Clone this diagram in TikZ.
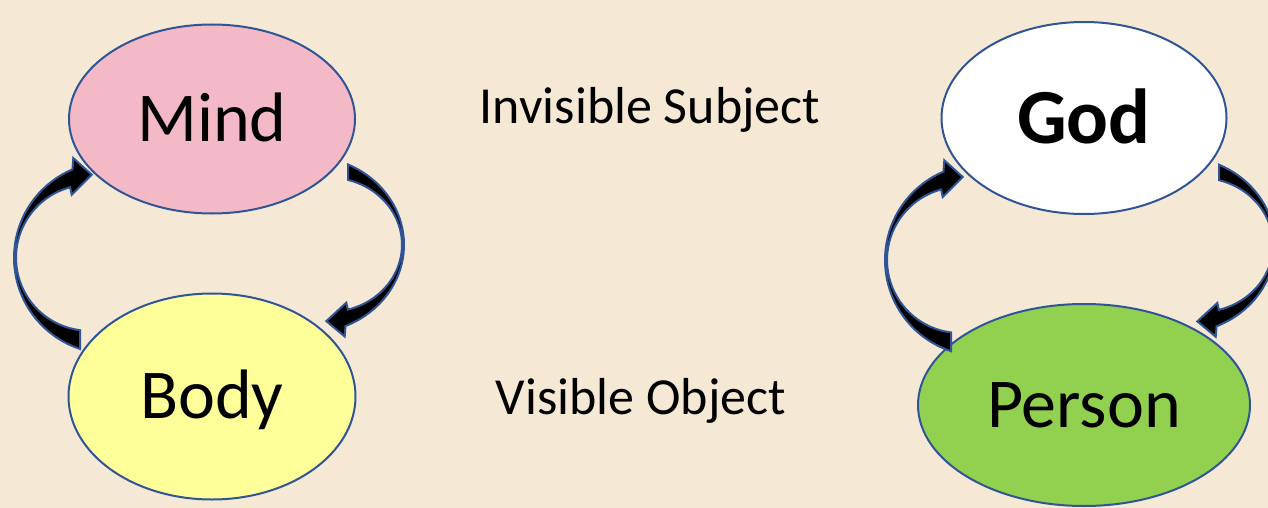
\documentclass[tikz,border=0pt]{standalone}
\usepackage{fontspec}
\setmainfont{Carlito}
\usetikzlibrary{shapes.geometric,positioning,calc}

\definecolor{paper}{RGB}{245,233,213}
\definecolor{rim}{RGB}{47,85,151}
\definecolor{rose}{RGB}{244,185,198}
\definecolor{lemon}{RGB}{255,255,153}
\definecolor{leaf}{RGB}{146,208,80}

\tikzset{
  oval/.style={ellipse, draw=rim, line width=2pt, inner sep=0pt, text height=44pt, text depth=0pt, font=\fontsize{70}{84}\selectfont},
  caption/.style={inner sep=0pt, text height=33pt, text depth=0pt, font=\fontsize{52}{62}\selectfont},
  bendarrow/.style={fill=black, draw=rim, line width=2pt, line join=miter},
  % crescent block arrow, #1 = x of the tail end
  pics/bend/.style={code={
    \pgfmathsetmacro{\ao}{acos((#1-96)/96)}
    \pgfmathsetmacro{\ai}{acos((#1-75)/73)}
    \draw[bendarrow] plot[domain=\ao:247, samples=40, variable=\t] ({96+96*cos(\t)},{96*sin(\t)})
      -- (59.3,-99.7) -- (77.7,-83) -- (57.7,-63)
      -- plot[domain=255:\ai, samples=40, variable=\t] ({75+73*cos(\t)},{73*sin(\t)}) -- cycle;
  }}
}

\begin{document}
\begin{tikzpicture}[x=1pt, y=-1pt]
  \fill[paper] (0,0) rectangle (1268,508);
  \useasboundingbox (0,0) rectangle (1268,508);

  \node[oval, fill=rose, minimum width=286pt, minimum height=189pt] (mind) at (212,119) {Mind};
  \node[oval, fill=lemon, minimum width=287pt, minimum height=206pt, below=78pt of mind] (body) {Body};
  \node[oval, fill=white, minimum width=285pt, minimum height=192pt, text height=50pt, font=\fontsize{78}{90}\selectfont\bfseries] (god) at (1084,118) {God};
  \node[oval, fill=leaf, minimum width=332pt, minimum height=202pt, below=88pt of god] (person) {Person};

  \node[caption] (subj) at (650,107) {Invisible Subject};
  \node[caption] (obj) at (641,398) {Visible Object};

  % curved arrows round each pair
  \coordinate (mb) at ($(mind)!0.5!(body)$);
  \coordinate (gp) at ($(god)!0.5!(person)$);
  \pic at ([shift={(-198,0)}]mb) {bend=66};
  \pic[xscale=-1, yscale=-0.92] at ([shift={(192,-13)}]mb) {bend=56};
  \pic at ([shift={(-199,-1.5)}]gp) {bend=66};
  \pic[xscale=-1, yscale=-0.92] at ([shift={(191,-16.5)}]gp) {bend=56};
\end{tikzpicture}
\end{document}
